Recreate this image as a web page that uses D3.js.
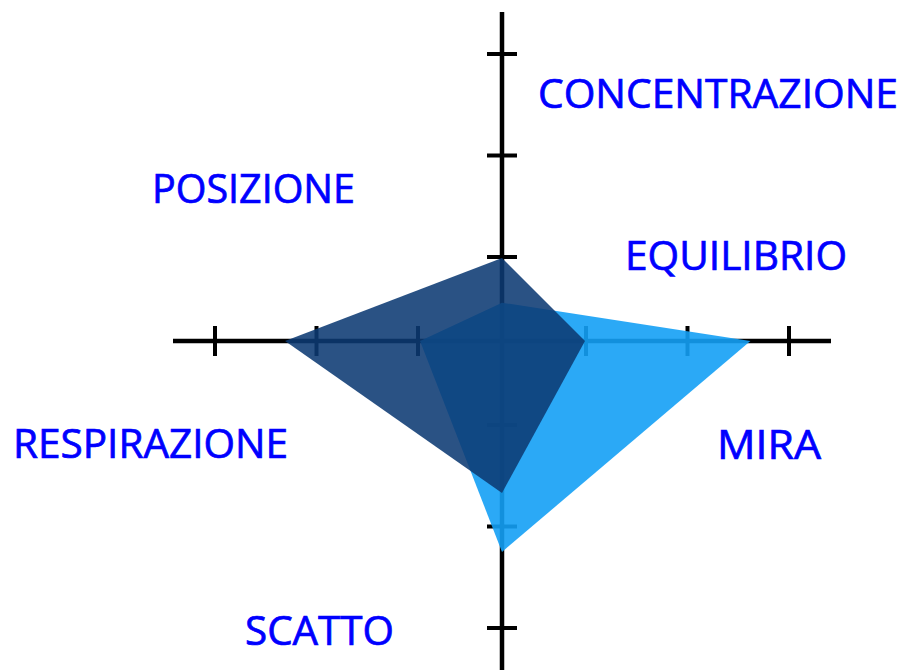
<html>
<head>
  <script src="https://d3js.org/d3.v7.min.js"></script>
  <style>
    body { margin: 0; background: white; }
    .axis line { stroke: black; stroke-width: 4.5px; }
    .axis line.tick { stroke-width: 4px; }
    .label { font-family: "Open Sans", sans-serif; font-size: 40px; fill: #0000ff;
             stroke: #0000ff; stroke-width: 0.7px; }
  </style>
</head>
<body>
  <svg id="chart" width="906" height="670"></svg>
  <script>
    // directions of the four arms, clockwise from the top
    const arms = ["top", "right", "bottom", "left"];
    const tickValues = [1, 2, 3];
    // values, one per arm
    const darkValues = [0.99, 0.99, 1.67, 2.31];
    const lightValues = [0.55, 2.62, 2.25, 0.98];
    const labels = ["CONCENTRAZIONE", "POSIZIONE", "EQUILIBRIO", "RESPIRAZIONE", "MIRA", "SCATTO"];

    // where each label sits: left x, baseline y, width
    const labelPos = [[538, 108, 360], [152, 203, 203], [625, 270, 222],
                      [13, 458, 275], [717, 459, 104], [245, 645, 149]];

    const svg = d3.select("#chart");
    const cx = 502, cy = 341;
    const armLength = 329;
    const tickHalf = 15;

    const r = d3.scaleLinear().domain([1, 3]).range([84, 287]);
    const angle = d3.scalePoint().domain(arms).range([0, Math.PI * 1.5]);

    const g = svg.append("g").attr("transform", `translate(${cx},${cy})`);

    // axes with cross ticks
    const axis = g.append("g").attr("class", "axis");
    arms.forEach(a => {
      const t = angle(a);
      const dx = Math.sin(t), dy = -Math.cos(t);
      axis.append("line")
        .attr("x1", 0).attr("y1", 0)
        .attr("x2", dx * armLength).attr("y2", dy * armLength);
      axis.selectAll(null).data(tickValues).join("line")
        .attr("class", "tick")
        .attr("x1", v => dx * r(v) - dy * tickHalf)
        .attr("y1", v => dy * r(v) + dx * tickHalf)
        .attr("x2", v => dx * r(v) + dy * tickHalf)
        .attr("y2", v => dy * r(v) - dx * tickHalf);
    });

    const radar = d3.lineRadial()
      .angle((d, i) => angle(arms[i]))
      .radius(d => r(d))
      .curve(d3.curveLinearClosed);

    g.append("path")
      .attr("d", radar(lightValues))
      .attr("fill", "rgb(20,160,245)")
      .attr("fill-opacity", 0.9);

    g.append("path")
      .attr("d", radar(darkValues))
      .attr("fill", "rgb(12,58,115)")
      .attr("fill-opacity", 0.88);

    svg.selectAll("text.label").data(labels)
      .join("text")
      .attr("class", "label")
      .attr("x", (d, i) => labelPos[i][0])
      .attr("y", (d, i) => labelPos[i][1])
      .attr("textLength", (d, i) => labelPos[i][2])
      .attr("lengthAdjust", "spacingAndGlyphs")
      .text(d => d);
  </script>
</body>
</html>
